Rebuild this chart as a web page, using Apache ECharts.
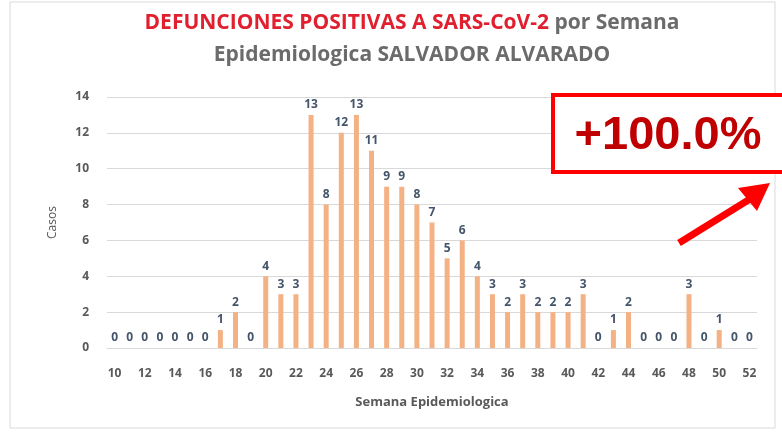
<!DOCTYPE html>
<html><head><meta charset="utf-8">
<script src="https://cdn.jsdelivr.net/npm/echarts@6/dist/echarts.min.js"></script>
<style>html,body{margin:0;padding:0;background:#fff}#c{width:782px;height:432px}</style>
</head><body><div id="c"></div>
<script>
const weeks = [10,11,12,13,14,15,16,17,18,19,20,21,22,23,24,25,26,27,28,29,30,31,32,33,34,35,36,37,38,39,40,41,42,43,44,45,46,47,48,49,50,51,52];
const deaths = [0,0,0,0,0,0,0,1,2,0,4,3,3,13,8,12,13,11,9,9,8,7,5,6,4,3,2,3,2,2,2,3,0,1,2,0,0,0,3,0,1,0,0];
const yTicks = [0,2,4,6,8,10,12,14];
const titleRed = 'DEFUNCIONES POSITIVAS A SARS-CoV-2';
const titleRest1 = ' por Semana';
const titleLine2 = 'Epidemiologica SALVADOR ALVARADO';
const changeText = '+100.0%';

const chart = echarts.init(document.getElementById('c'));
const font = '"Open Sans", "Liberation Sans", sans-serif';
chart.setOption({
  animation:false,
  backgroundColor:'#fff',
  title:{
    top:2, left:407, textAlign:'center',
    text:'{r|'+titleRed+'}{g|'+titleRest1+'}\n{g|'+titleLine2+'}',
    textStyle:{
      fontFamily:font, lineHeight:32,
      rich:{
        r:{color:'#E0202E', fontSize:21, fontWeight:'bold', fontFamily:font, lineHeight:32, letterSpacing:0.8},
        g:{color:'#6b6b6b', fontSize:21, fontWeight:'bold', fontFamily:font, lineHeight:32, letterSpacing:0.8}
      }
    }
  },
  grid:{left:107, right:25, top:97, bottom:84},
  xAxis:{
    type:'category', data:weeks.map(String),
    name:'Semana Epidemiologica', nameLocation:'middle', nameGap:48,
    nameTextStyle:{color:'#595959', fontSize:13, fontFamily:font, fontWeight:'bold'},
    axisLine:{lineStyle:{color:'#d9d9d9'}}, axisTick:{show:false},
    axisLabel:{color:'#595959', fontSize:12, fontWeight:'bold', fontFamily:font, interval:1, margin:20}
  },
  yAxis:{
    type:'value', min:0, max:14, interval:2,
    name:'Casos', nameLocation:'middle', nameGap:48,
    nameTextStyle:{color:'#595959', fontSize:12, fontFamily:font},
    axisLine:{show:false}, axisTick:{show:false},
    splitLine:{lineStyle:{color:'#d9d9d9', width:1}},
    axisLabel:{color:'#595959', fontSize:12, fontWeight:'bold', fontFamily:font, margin:18,
      formatter:v=>yTicks.includes(v)?String(v):''}
  },
  series:[{
    type:'bar', data:deaths, barWidth:5,
    itemStyle:{color:'#F4B183'},
    label:{show:true, position:'top', distance:4, color:'#44546A', fontSize:12, fontWeight:'bold', fontFamily:font}
  }],
  graphic:[
    {type:'rect', shape:{x:10, y:2, width:765, height:426}, style:{fill:null, stroke:'#d9d9d9', lineWidth:1}, z:-1},
    {type:'rect', shape:{x:553, y:95, width:240, height:77}, style:{fill:'#fff', stroke:'#FF0000', lineWidth:4}, z:10},
    {type:'text', x:668, y:136, style:{text:changeText, fill:'#C00000', font:'bold 47px "Liberation Sans", Arial, sans-serif', align:'center', verticalAlign:'middle'}, z:11},
    {type:'line', shape:{x1:679, y1:243, x2:750, y2:199}, style:{stroke:'#FF0000', lineWidth:7}, z:10},
    {type:'polygon', shape:{points:[[770,183],[738,188],[757,211]]}, style:{fill:'#FF0000'}, z:10}
  ]
});
</script></body></html>
